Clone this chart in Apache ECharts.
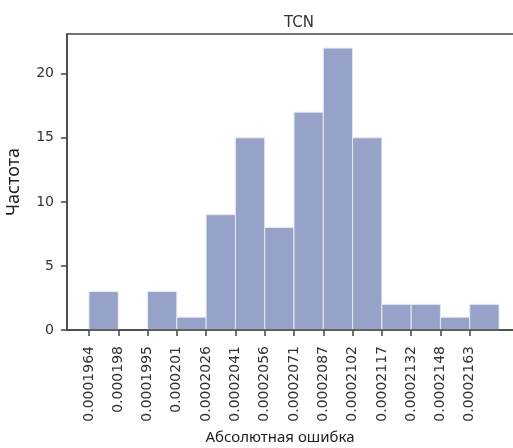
<!DOCTYPE html>
<html>
<head>
<meta charset="utf-8">
<script src="https://cdn.jsdelivr.net/npm/echarts@6/dist/echarts.min.js"></script>
<style>html,body{margin:0;padding:0;background:#fff}#c{width:513px;height:448px}</style>
</head>
<body>
<div id="c"></div>
<script>
// Bin edge labels (left edge of each bin)
const tickLabels = ['0.0001964','0.000198','0.0001995','0.000201','0.0002026','0.0002041','0.0002056','0.0002071','0.0002087','0.0002102','0.0002117','0.0002132','0.0002148','0.0002163'];
// Counts per bin (14 bins)
const counts = [3, 0, 3, 1, 9, 15, 8, 17, 22, 15, 2, 2, 1, 2];
const titleText = 'TCN';
const xName = 'Абсолютная ошибка';
const yName = 'Частота';

const binData = counts.map((c, i) => [i, i + 1, c]);
const tickIdx = tickLabels.map((_, i) => i);

const chart = echarts.init(document.getElementById('c'));
const axisColor = '#444';
const textColor = '#333';
chart.setOption({
  animation: false,
  title: {
    text: titleText, left: 294, top: 11, textAlign: 'center',
    textStyle: { fontFamily: 'DejaVu Sans', fontSize: 15, fontWeight: 'normal', color: textColor }
  },
  grid: { left: 67, top: 34, right: -8, bottom: 118, show: true, borderColor: axisColor, borderWidth: 1.5, containLabel: false, outerBoundsMode: 'none' },
  xAxis: {
    type: 'value', min: -0.75, max: 14.75, z: 5,
    name: xName, nameLocation: 'middle', nameGap: 100,
    nameTextStyle: { fontFamily: 'Noto Sans', fontSize: 15, color: '#222', padding: [0, 28, 0, 0] },
    axisLine: { show: true, onZero: false, lineStyle: { color: axisColor, width: 1.5 } },
    axisTick: { show: true, customValues: tickIdx, length: 6, lineStyle: { color: axisColor, width: 1.5 } },
    axisLabel: {
      customValues: tickIdx, rotate: 90, margin: 16,
      fontFamily: 'DejaVu Sans', fontSize: 14, color: textColor,
      formatter: v => tickLabels[Math.round(v)]
    },
    splitLine: { show: false }
  },
  yAxis: {
    type: 'value', min: 0, max: 23.1, interval: 5, z: 5,
    name: yName, nameLocation: 'middle', nameGap: 44,
    nameTextStyle: { fontFamily: 'Noto Sans', fontSize: 18, color: '#222' },
    axisLine: { show: true, onZero: false, lineStyle: { color: axisColor, width: 1.5 } },
    axisTick: { show: true, length: 6, lineStyle: { color: axisColor, width: 1.5 } },
    axisLabel: { fontFamily: 'DejaVu Sans', fontSize: 14, color: textColor, margin: 13, showMaxLabel: false },
    splitLine: { show: false }
  },
  series: [{
    type: 'custom',
    data: binData,
    encode: { x: [0, 1], y: 2 },
    renderItem: function (params, api) {
      if (!api.value(2)) return null;
      const p0 = api.coord([api.value(0), api.value(2)]);
      const p1 = api.coord([api.value(1), 0]);
      return {
        type: 'rect',
        shape: { x: p0[0], y: p0[1], width: p1[0] - p0[0], height: p1[1] - p0[1] },
        style: { fill: '#97a2c8', stroke: '#e6e9f3', lineWidth: 1 }
      };
    }
  }]
});
</script>
</body>
</html>
